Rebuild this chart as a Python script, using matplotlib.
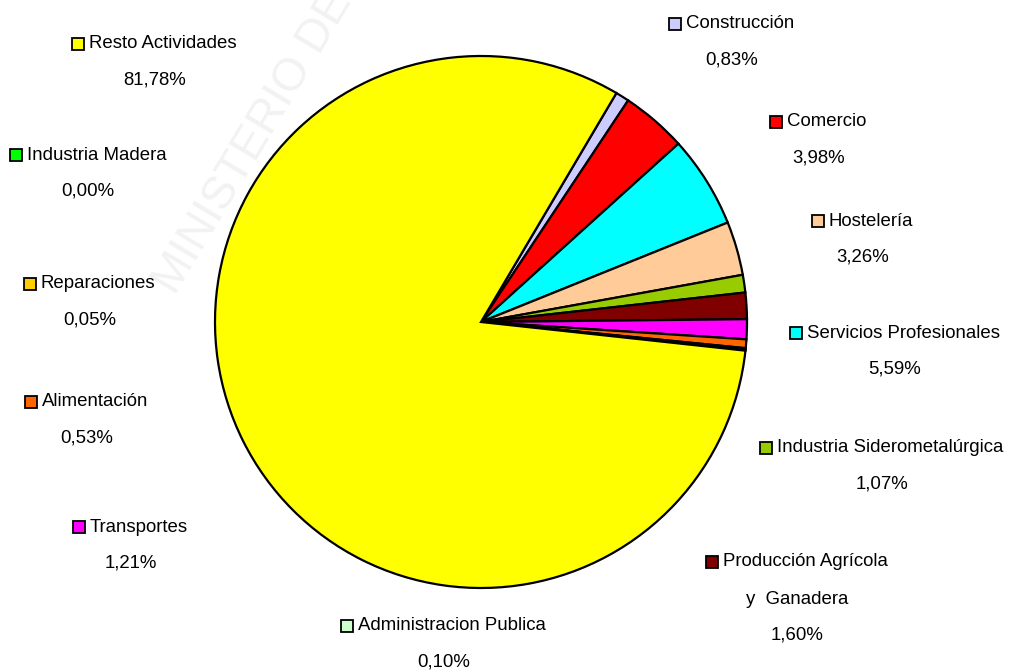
import matplotlib.pyplot as plt
from matplotlib.patches import Rectangle

W, H = 1010, 671

# sectores en el orden del dibujo (sentido horario desde arriba)
sectores = [
    "Construcción", "Comercio", "Servicios Profesionales", "Hostelería",
    "Industria Siderometalúrgica", "Producción Agrícola\ny  Ganadera", "Transportes",
    "Alimentación", "Reparaciones", "Administracion Publica", "Industria Madera",
    "Resto Actividades",
]
porcentajes = [0.83, 3.98, 5.59, 3.26, 1.07, 1.60, 1.21, 0.53, 0.05, 0.10, 0.00, 81.78]
colores = [
    "#ccccff", "#ff0000", "#00ffff", "#ffcc99", "#99cc00", "#800000", "#ff00ff",
    "#ff6600", "#ffcc00", "#ccffcc", "#00ff00", "#ffff00",
]

# posicion de cada etiqueta (x izquierda del cuadro, y de la primera linea) en pixeles
pos_etiquetas = [
    (669, 24), (770, 122), (790, 333), (812, 221), (760, 448), (706, 562),
    (73, 527), (25, 402), (24, 284), (341, 626), (10, 155), (72, 44),
]

plt.rcParams["font.family"] = ["Liberation Sans", "DejaVu Sans"]

fig = plt.figure(figsize=(W / 100, H / 100), dpi=100)
ax = fig.add_axes([0, 0, 1, 1])

ax.pie(
    porcentajes,
    colors=colores,
    startangle=59.4,
    counterclock=False,
    center=(481, H - 322),
    radius=266,
    wedgeprops=dict(edgecolor="black", linewidth=1.6),
    frame=False,
)

# ejes en pixeles: 1 unidad de datos = 1 pixel
ax.set_xlim(0, W)
ax.set_ylim(0, H)
ax.set_aspect("equal")
ax.axis("off")

# marca de agua
ax.text(165, H - 290, "MINISTERIO DE", rotation=59, rotation_mode="anchor",
        fontsize=33, color="#f2f2f2", ha="left", va="center", zorder=0)

fs = 13.4
for nombre, pct, color, (x, y) in zip(sectores, porcentajes, colores, pos_etiquetas):
    ax.add_patch(Rectangle((x, H - y - 6), 12, 12, facecolor=color, edgecolor="black",
                           linewidth=1.3, zorder=5))
    lineas = nombre.split("\n")
    t = ax.text(x + 17, H - y, lineas[0], fontsize=fs, ha="left", va="center", zorder=5)
    fig.canvas.draw()
    bb = t.get_window_extent()
    cx = (x + bb.x1) / 2
    yy = y
    for extra in lineas[1:]:
        yy += 37
        ax.text(cx, H - yy, extra, fontsize=fs, ha="center", va="center", zorder=5)
    yy += 36
    ax.text(cx, H - yy, f"{pct:.2f}%".replace(".", ","), fontsize=fs,
            ha="center", va="center", zorder=5)

fig.savefig("out.png", dpi=100)
